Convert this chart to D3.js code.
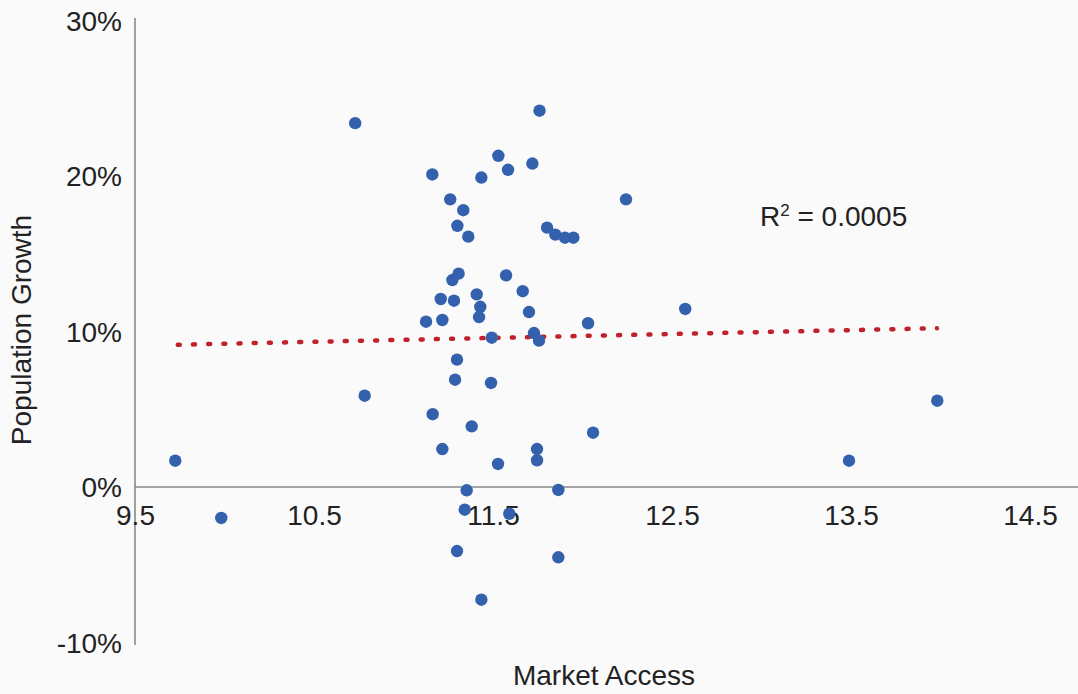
<!DOCTYPE html>
<html>
<head>
<meta charset="utf-8">
<script src="https://cdn.jsdelivr.net/npm/d3@7"></script>
<style>
  html, body { margin: 0; padding: 0; background: #fafafa; }
  svg { display: block; font-family: "Liberation Sans", Arial, sans-serif; }
</style>
</head>
<body>
<div id="chart"></div>
<script>
// market access (x) and population growth (y) for each point
const marketAccess = [
  10.73, 11.76, 11.53, 11.72, 11.584, 11.161, 11.435, 12.243, 11.261, 11.334,
  11.301, 11.362, 11.802, 11.848, 11.902, 11.949, 11.308, 11.273, 11.573, 11.666,
  11.208, 11.282, 11.409, 11.429, 11.422, 11.701, 11.126, 11.217, 12.031, 11.729,
  11.757, 11.493, 11.299, 11.288, 11.489, 10.783, 11.163, 11.381, 12.059, 11.217,
  11.746, 11.528, 11.746, 11.353, 11.865, 11.342, 11.591, 11.299, 11.865, 11.435,
  9.725, 9.982, 13.489, 13.982, 12.574
];
const popGrowth = [
  0.234, 0.242, 0.213, 0.208, 0.204, 0.201, 0.199, 0.185, 0.185, 0.178,
  0.168, 0.161, 0.1668, 0.1623, 0.1603, 0.1603, 0.1372, 0.1331, 0.1361, 0.1259,
  0.1209, 0.1198, 0.1239, 0.1159, 0.1093, 0.1125, 0.1063, 0.1074, 0.1053, 0.099,
  0.0941, 0.096, 0.0819, 0.069, 0.0669, 0.0587, 0.0468, 0.039, 0.0349, 0.0244,
  0.0244, 0.0148, 0.0172, -0.0021, -0.0019, -0.0146, -0.0172, -0.0412, -0.0452, -0.0725,
  0.0169, -0.0199, 0.0169, 0.0555, 0.1145
];

// linear trend line end points
const trendX = [9.739, 13.98];
const trendY = [0.0915, 0.1021];

const xTicks = [9.5, 10.5, 11.5, 12.5, 13.5, 14.5];
const yTicks = [-0.1, 0, 0.1, 0.2, 0.3];
const r2Label = "0.0005";

const width = 1078, height = 694;
const points = marketAccess.map((d, i) => ({x: d, y: popGrowth[i]}));
const trend = trendX.map((d, i) => ({x: d, y: trendY[i]}));

const svg = d3.select("#chart").append("svg")
  .attr("width", width)
  .attr("height", height);

svg.append("rect")
  .attr("width", width)
  .attr("height", height)
  .attr("fill", "#fafafa");

const x = d3.scaleLinear().domain([9.5, 14.5]).range([135, 1030]);
const y = d3.scaleLinear().domain([-0.1, 0.3]).range([642.5, 20.5]);

const textColor = "#222222";
const axisColor = "#8a8a8a";

// y axis line + labels (no tick marks)
svg.append("line")
  .attr("x1", x(9.5)).attr("x2", x(9.5))
  .attr("y1", y(0.3) - 2.5).attr("y2", y(-0.1) + 2.5)
  .attr("stroke", axisColor).attr("stroke-width", 1.6);

// plain hyphen for negatives, like the original
const pct = d => Math.round(d * 100) + "%";

const yAxis = d3.axisLeft(y)
  .tickValues(yTicks)
  .tickFormat(pct)
  .tickSize(0)
  .tickPadding(13);

svg.append("g")
  .attr("transform", `translate(${x(9.5)},0)`)
  .call(yAxis)
  .call(g => g.select(".domain").remove())
  .selectAll("text")
    .attr("font-size", 28)
    .attr("font-family", "Liberation Sans, Arial, sans-serif")
    .attr("fill", textColor)
    .attr("dy", "0.35em");

// x axis line at 0 + labels
svg.append("line")
  .attr("x1", x(9.5)).attr("x2", width)
  .attr("y1", y(0)).attr("y2", y(0))
  .attr("stroke", axisColor).attr("stroke-width", 1.6);

const xAxis = d3.axisBottom(x)
  .tickValues(xTicks)
  .tickFormat(d3.format(".1f"))
  .tickSize(0)
  .tickPadding(18);

svg.append("g")
  .attr("transform", `translate(0,${y(0)})`)
  .call(xAxis)
  .call(g => g.select(".domain").remove())
  .selectAll("text")
    .attr("font-size", 28)
    .attr("font-family", "Liberation Sans, Arial, sans-serif")
    .attr("fill", textColor);

// axis titles
svg.append("text")
  .attr("x", 604).attr("y", 685)
  .attr("text-anchor", "middle")
  .attr("font-size", 28)
  .attr("fill", textColor)
  .text("Market Access");

svg.append("text")
  .attr("transform", "translate(31,330) rotate(-90)")
  .attr("text-anchor", "middle")
  .attr("font-size", 28)
  .attr("fill", textColor)
  .text("Population Growth");

// trend line (dotted red), dash period fitted so a dot lands on both ends
const trendPath = svg.append("path")
  .datum(trend)
  .attr("d", d3.line().x(d => x(d.x)).y(d => y(d.y)))
  .attr("fill", "none")
  .attr("stroke", "#c0222b")
  .attr("stroke-width", 4.5)
  .attr("stroke-linecap", "round");
const len = trendPath.node().getTotalLength();
const period = len / Math.round(len / 15.2);
trendPath.attr("stroke-dasharray", `2 ${period - 2}`);

// scatter points
svg.append("g")
  .selectAll("circle")
  .data(points)
  .join("circle")
    .attr("cx", d => x(d.x))
    .attr("cy", d => y(d.y))
    .attr("r", 6.2)
    .attr("fill", "#3461ad");

// R squared label
const r2 = svg.append("text")
  .attr("x", 760).attr("y", 226)
  .attr("font-size", 28)
  .attr("fill", textColor);
r2.append("tspan").text("R");
r2.append("tspan").attr("font-size", 17).attr("dy", -10).text("2");
r2.append("tspan").attr("dy", 10).text(" = " + r2Label);
</script>
</body>
</html>
